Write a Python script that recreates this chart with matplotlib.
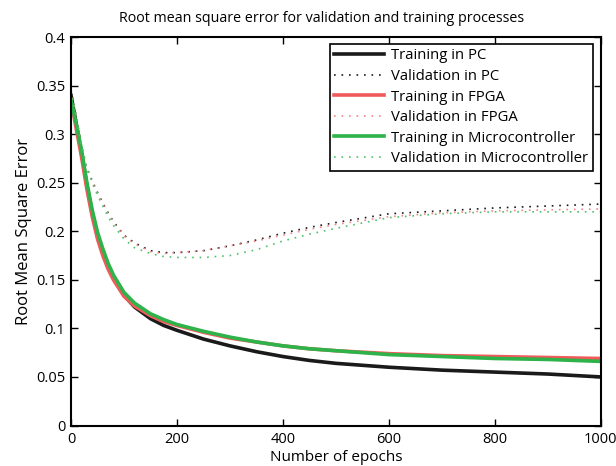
import matplotlib
matplotlib.use('Agg')
import numpy as np
import matplotlib.pyplot as plt

plt.rcParams['font.family'] = ['Open Sans', 'DejaVu Sans']

epochs = [0, 10, 20, 30, 40, 50, 60, 70, 80, 100, 120, 150, 175, 200,
          250, 300, 350, 400, 450, 500, 600, 700, 800, 900, 1000]

# training RMSE
train_pc = [0.340, 0.310, 0.280, 0.247, 0.219, 0.196, 0.178, 0.164, 0.152, 0.134, 0.122, 0.110, 0.103, 0.098,
            0.089, 0.082, 0.076, 0.071, 0.067, 0.064, 0.060, 0.057, 0.055, 0.053, 0.050]
train_fpga = [0.335, 0.305, 0.276, 0.243, 0.215, 0.192, 0.175, 0.161, 0.150, 0.133, 0.123, 0.113, 0.107, 0.103,
              0.096, 0.090, 0.086, 0.082, 0.079, 0.077, 0.074, 0.072, 0.071, 0.070, 0.069]
train_micro = [0.335, 0.310, 0.283, 0.250, 0.222, 0.199, 0.182, 0.167, 0.155, 0.137, 0.126, 0.115, 0.109, 0.104,
               0.097, 0.091, 0.086, 0.082, 0.079, 0.077, 0.073, 0.071, 0.069, 0.068, 0.066]

# validation RMSE
val_pc = [0.345, 0.318, 0.287, 0.265, 0.252, 0.240, 0.229, 0.219, 0.210, 0.196, 0.188, 0.180, 0.178, 0.178,
          0.180, 0.185, 0.191, 0.198, 0.204, 0.209, 0.218, 0.221, 0.224, 0.226, 0.228]
val_fpga = [0.345, 0.318, 0.287, 0.265, 0.251, 0.239, 0.228, 0.218, 0.209, 0.195, 0.187, 0.179, 0.177, 0.178,
            0.180, 0.185, 0.190, 0.196, 0.202, 0.207, 0.215, 0.219, 0.221, 0.222, 0.223]
val_micro = [0.345, 0.318, 0.287, 0.265, 0.250, 0.237, 0.226, 0.215, 0.206, 0.192, 0.183, 0.177, 0.174, 0.173,
             0.173, 0.175, 0.181, 0.190, 0.197, 0.203, 0.214, 0.218, 0.220, 0.220, 0.220]

fig = plt.figure(figsize=(6.16, 4.66), dpi=100)
ax = fig.add_axes([0.1153, 0.0869, 0.860, 0.8337])

dots = (0, (1, 3.5))
ax.plot(epochs, train_pc, color='#1a1a1a', lw=2.6, label='Training in PC')
ax.plot(epochs, val_pc, color='#1a1a1a', lw=1.2, ls=dots, label='Validation in PC')
ax.plot(epochs, train_fpga, color='#f05a5a', lw=2.6, label='Training in FPGA')
ax.plot(epochs, val_fpga, color='#f28a8a', lw=1.2, ls=dots, label='Validation in FPGA')
ax.plot(epochs, train_micro, color='#2db34a', lw=2.6, label='Training in Microcontroller')
ax.plot(epochs, val_micro, color='#4cc36a', lw=1.2, ls=dots, label='Validation in Microcontroller')

ax.set_xlim(0, 1000)
ax.set_ylim(0, 0.4)
ax.set_xticks(np.arange(0, 1001, 200))
ax.set_yticks(np.arange(0, 0.401, 0.05))
ax.set_yticklabels(['0', '0.05', '0.1', '0.15', '0.2', '0.25', '0.3', '0.35', '0.4'])
ax.tick_params(direction='in', top=True, right=True, length=5, labelsize=10.5, width=1)
ax.tick_params(axis='x', pad=5)
ax.tick_params(axis='y', pad=4)
for s in ax.spines.values():
    s.set_linewidth(1.5)

ax.set_title('Root mean square error for validation and training processes', fontsize=10.25,
             pad=11, x=0.472)
ax.set_xlabel('Number of epochs', fontsize=11, labelpad=2)
ax.set_ylabel('Root Mean Square Error', fontsize=12, labelpad=3)

leg = ax.legend(loc='upper right', bbox_to_anchor=(0.985, 0.982), fontsize=10.75, fancybox=False,
                edgecolor='black', framealpha=1, handlelength=3.3, labelspacing=0.37,
                borderpad=0.3, handletextpad=0.5, borderaxespad=0)
leg.get_frame().set_linewidth(1.2)

fig.savefig('out.png', dpi=100)
